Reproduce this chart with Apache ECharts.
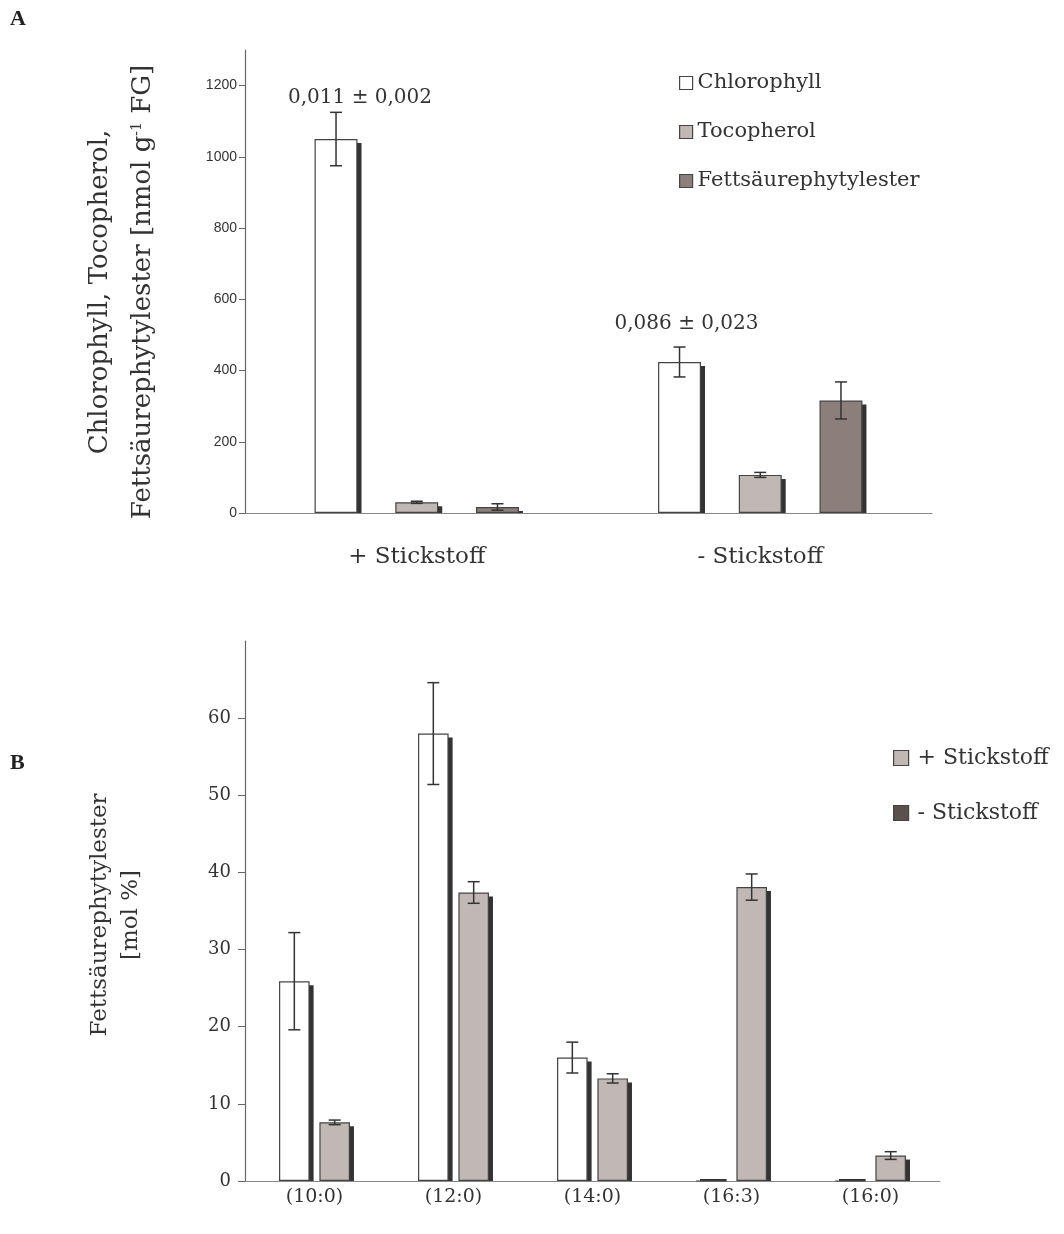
<!DOCTYPE html>
<html>
<head>
<meta charset="utf-8">
<script src="https://cdn.jsdelivr.net/npm/echarts@6/dist/echarts.min.js"></script>
<style>
html,body{margin:0;padding:0;background:#fff;}
#chart{width:1064px;height:1234px;}
</style>
</head>
<body>
<div id="chart"></div>
<script>
// ---------- Panel A data ----------
const catsA = ['+ Stickstoff', '- Stickstoff'];
const seriesNamesA = ['Chlorophyll', 'Tocopherol', 'Fettsäurephytylester'];
const chlorophyll = [1050, 424];
const chlorophyllErr = [75, 42];
const tocopherol = [30, 107];
const tocopherolErr = [3, 7];
const fettsaeure = [17, 316];
const fettsaeureErr = [9, 52];
const yTicksA = [0, 200, 400, 600, 800, 1000, 1200];
const notesA = ['0,011 ± 0,002', '0,086 ± 0,023'];

// ---------- Panel B data ----------
const catsB = ['(10:0)', '(12:0)', '(14:0)', '(16:3)', '(16:0)'];
const seriesNamesB = ['+ Stickstoff', '- Stickstoff'];
const plusN = [25.9, 58.0, 16.0, 0, 0];
const plusNErr = [6.3, 6.6, 2.0, 0, 0];
const minusN = [7.6, 37.4, 13.3, 38.1, 3.3];
const minusNErr = [0.3, 1.4, 0.6, 1.7, 0.5];
const yTicksB = [0, 10, 20, 30, 40, 50, 60];

const SERIF = "'DejaVu Serif', 'Liberation Serif', serif";
const SANS = "'Liberation Sans', Arial, sans-serif";
const TXT = '#333';
const BORDER = '#444';

const chart = echarts.init(document.getElementById('chart'), null, {renderer: 'canvas'});

// bar layout helper (same rule as ECharts: barGap is a fraction of bar width)
function barOffset(band, wFrac, gapFrac, n, i) {
  const bw = band * wFrac;
  const gap = bw * gapFrac;
  const total = n * bw + (n - 1) * gap;
  return {bw: bw, center: -total / 2 + i * (bw + gap) + bw / 2};
}

function makeErr(gridIdx, vals, errs, i, n, wFrac, gapFrac) {
  return {
    type: 'custom', name: 'err' + gridIdx + '_' + i,
    xAxisIndex: gridIdx, yAxisIndex: gridIdx, z: 6, silent: true,
    data: vals.map((v, k) => [k, v, errs[k]]),
    encode: {x: 0, y: 1},
    renderItem: function (params, api) {
      const k = api.value(0), v = api.value(1), e = api.value(2);
      if (!e) return null;
      const band = api.size([1, 0])[0];
      const o = barOffset(band, wFrac, gapFrac, n, i);
      const x = api.coord([k, v])[0] + o.center;
      const yt = api.coord([k, v + e])[1];
      const yb = api.coord([k, v - e])[1];
      const cap = 6;
      const st = {stroke: '#333', lineWidth: 1.5};
      return {type: 'group', children: [
        {type: 'line', shape: {x1: x, y1: yt, x2: x, y2: yb}, style: st},
        {type: 'line', shape: {x1: x - cap, y1: yt, x2: x + cap, y2: yt}, style: st},
        {type: 'line', shape: {x1: x - cap, y1: yb, x2: x + cap, y2: yb}, style: st}
      ]};
    }
  };
}

function makeShadow(gridIdx, vals, i, n, wFrac, gapFrac) {
  return {
    type: 'custom', name: 'shadow' + gridIdx + '_' + i,
    xAxisIndex: gridIdx, yAxisIndex: gridIdx, z: 1, silent: true,
    data: vals.map((v, k) => [k, v]),
    encode: {x: 0, y: 1},
    renderItem: function (params, api) {
      const k = api.value(0), v = api.value(1);
      const band = api.size([1, 0])[0];
      const o = barOffset(band, wFrac, gapFrac, n, i);
      const cx = api.coord([k, v])[0] + o.center;
      const yt = api.coord([k, v])[1];
      const y0 = api.coord([k, 0])[1];
      const dx = 4, dy = 4;
      if (y0 - yt <= dy) {
        return {type: 'rect', shape: {x: cx - o.bw / 2 + dx, y: y0 - 2, width: o.bw - dx, height: 2},
          style: {fill: '#333'}};
      }
      return {type: 'rect', shape: {x: cx - o.bw / 2 + dx, y: yt + dy, width: o.bw, height: y0 - yt - dy},
        style: {fill: '#333'}};
    }
  };
}

const wA = 0.125, gA = 0.88;
const wB = 0.22, gB = 0.32;
const colorsA = ['#ffffff', '#c1b7b4', '#8c7f7b'];
const valsA = [chlorophyll, tocopherol, fettsaeure];
const errsA = [chlorophyllErr, tocopherolErr, fettsaeureErr];
const colorsB = ['#ffffff', '#c1b7b4'];
const legendColorsB = ['#c1b7b4', '#5b504d'];
const valsB = [plusN, minusN];
const errsB = [plusNErr, minusNErr];
const noteDist = [31, 28];
const noteOffX = [24, 7];

const series = [];
valsA.forEach((vals, i) => {
  series.push({
    type: 'bar', name: seriesNamesA[i], xAxisIndex: 0, yAxisIndex: 0, z: 3,
    barWidth: (wA * 100) + '%', barGap: (gA * 100) + '%',
    itemStyle: {color: colorsA[i], borderColor: BORDER, borderWidth: 1.2},
    data: vals.map((v, k) => i === 0 ? {
      value: v,
      label: {show: true, position: 'top', distance: noteDist[k], offset: [noteOffX[k], 0],
        formatter: notesA[k], fontFamily: SERIF, fontSize: 20, color: TXT}
    } : v)
  });
  series.push(makeShadow(0, vals, i, 3, wA, gA));
  series.push(makeErr(0, vals, errsA[i], i, 3, wA, gA));
});
valsB.forEach((vals, i) => {
  series.push({
    type: 'bar', name: seriesNamesB[i], xAxisIndex: 1, yAxisIndex: 1, z: 3,
    barWidth: (wB * 100) + '%', barGap: (gB * 100) + '%',
    itemStyle: {color: colorsB[i], borderColor: BORDER, borderWidth: 1.2},
    data: vals
  });
  series.push(makeShadow(1, vals, i, 2, wB, gB));
  series.push(makeErr(1, vals, errsB[i], i, 2, wB, gB));
});

const option = {
  animation: false,
  backgroundColor: '#fff',
  grid: [
    {left: 245, top: 50, width: 687, height: 463},
    {left: 245, top: 641, width: 695, height: 540}
  ],
  xAxis: [
    {type: 'category', gridIndex: 0, data: catsA,
      axisLine: {lineStyle: {color: '#888', width: 1.2}}, axisTick: {show: false},
      axisLabel: {fontFamily: SERIF, fontSize: 23, color: TXT, margin: 33}},
    {type: 'category', gridIndex: 1, data: catsB,
      axisLine: {lineStyle: {color: '#888', width: 1.2}}, axisTick: {show: false},
      axisLabel: {fontFamily: SERIF, fontSize: 19, color: TXT, margin: 7}}
  ],
  yAxis: [
    {type: 'value', gridIndex: 0, min: 0, max: 1300, interval: 100,
      axisLine: {show: true, lineStyle: {color: '#666', width: 1.2}},
      axisTick: {show: true, length: 6, lineStyle: {color: '#666'}, customValues: yTicksA},
      axisLabel: {fontFamily: SANS, fontSize: 14, color: TXT, margin: 8, customValues: yTicksA,
        formatter: v => String(v)},
      splitLine: {show: false}},
    {type: 'value', gridIndex: 1, min: 0, max: 70, interval: 10,
      axisLine: {show: true, lineStyle: {color: '#666', width: 1.2}},
      axisTick: {show: true, length: 7, lineStyle: {color: '#666'}, customValues: yTicksB},
      axisLabel: {fontFamily: SERIF, fontSize: 18, color: TXT, margin: 14, customValues: yTicksB,
        formatter: v => String(v)},
      splitLine: {show: false}}
  ],
  legend: [
    {orient: 'vertical', left: 679, top: 70, padding: 0, itemWidth: 13, itemHeight: 13, itemGap: 23,
      textStyle: {fontFamily: SERIF, fontSize: 21, color: TXT, lineHeight: 26},
      data: seriesNamesA.map((n, i) => ({name: n, icon: 'rect',
        itemStyle: {color: colorsA[i], borderColor: BORDER, borderWidth: 1.2}}))},
    {orient: 'vertical', left: 893, top: 745, padding: 0, itemWidth: 15, itemHeight: 15, itemGap: 29,
      textStyle: {fontFamily: SERIF, fontSize: 22, color: TXT, lineHeight: 26, padding: [0, 0, 0, 4]},
      data: seriesNamesB.map((n, i) => ({name: n, icon: 'rect',
        itemStyle: {color: legendColorsB[i], borderColor: BORDER, borderWidth: 1.2}}))}
  ],
  graphic: [
    {type: 'text', left: 10, top: 8, style: {text: 'A', font: "bold 22px 'Liberation Serif'", fill: '#222'}},
    {type: 'text', left: 10, top: 752, style: {text: 'B', font: "bold 22px 'Liberation Serif'", fill: '#222'}},
    {type: 'text', x: 100, y: 292, rotation: Math.PI / 2,
      style: {text: 'Chlorophyll, Tocopherol,', fontFamily: SERIF, fontSize: 26, fill: TXT,
        align: 'center', verticalAlign: 'middle'}},
    {type: 'text', x: 143, y: 292, rotation: Math.PI / 2,
      style: {text: 'Fettsäurephytylester [nmol g{sup|-1} FG]', fontFamily: SERIF, fontSize: 26, fill: TXT,
        align: 'center', verticalAlign: 'middle',
        rich: {sup: {fontFamily: SERIF, fontSize: 14, fill: TXT, verticalAlign: 'top', lineHeight: 26}}}},
    {type: 'text', x: 100, y: 915, rotation: Math.PI / 2,
      style: {text: 'Fettsäurephytylester', fontFamily: SERIF, fontSize: 23, fill: TXT,
        align: 'center', verticalAlign: 'middle'}},
    {type: 'text', x: 131, y: 915, rotation: Math.PI / 2,
      style: {text: '[mol %]', fontFamily: SERIF, fontSize: 23, fill: TXT,
        align: 'center', verticalAlign: 'middle'}}
  ],
  series: series
};
chart.setOption(option);
</script>
</body>
</html>
